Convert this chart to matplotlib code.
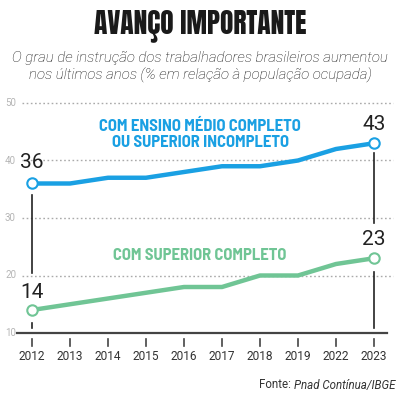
import matplotlib
matplotlib.use("Agg")
import matplotlib.pyplot as plt
from matplotlib.transforms import blended_transform_factory

years = ["2012", "2013", "2014", "2015", "2016", "2017", "2018", "2019", "2022", "2023"]
medio = [36, 36, 37, 37, 38, 39, 39, 40, 42, 43]
superior = [14, 15, 16, 17, 18, 18, 20, 20, 22, 23]
yticks = [10, 20, 30, 40, 50]

BLUE = "#1aa0e3"
GREEN = "#70c595"
W, H = 400, 395
fig = plt.figure(figsize=(W / 100, H / 100), dpi=100)
fig.patch.set_facecolor("white")

def fx(px):
    return px / W

def fy(py):
    return 1 - py / H

ax = fig.add_axes([fx(17), fy(333), fx(395) - fx(17), fy(95) - fy(333)])
x = list(range(len(years)))
ax.set_xlim((17 - 32) / 38, (395 - 32) / 38)
ax.set_ylim(10, 10 + (333 - 95) / 5.75)
for s in ax.spines.values():
    s.set_visible(False)
ax.set_xticks([])
ax.set_yticks([])

# gridlines
x0g, x1g = (22 - 17) / 378, (393 - 17) / 378
for v in yticks[1:]:
    ax.axhline(v, xmin=x0g, xmax=x1g, color="#aaaaaa", lw=1.0, ls=(0, (1.2, 1.8)), zorder=1)
ax.axhline(10, xmin=0, xmax=(387 - 17) / 378, color="#444444", lw=1.6, zorder=2, clip_on=False)

# y labels
for v in yticks:
    ax.text((5 - 32) / 38, v, str(v), ha="left", va="center", fontsize=7, color="#b5b5b5",
            family="Roboto", clip_on=False)

# x ticks & labels
tr = blended_transform_factory(ax.transData, ax.transAxes)
for i, yr in enumerate(years):
    ax.plot([i, i], [-6 / 238, -13 / 238], transform=tr, color="#444444", lw=1.2, clip_on=False)
    ax.text(i, -24 / 238, yr, transform=tr, ha="center", va="center", fontsize=8.6,
            color="#333333", family="Roboto", clip_on=False)

# leader lines
ax.plot([0, 0], [medio[0] - 2.0, superior[0] + 6.4], color="#222222", lw=1.2, zorder=2)
ax.plot([0, 0], [superior[0] - 2.3, superior[0] - 3.1], color="#222222", lw=1.2, zorder=2)
ax.plot([9, 9], [medio[-1] - 1.7, superior[-1] + 6.1], color="#222222", lw=1.2, zorder=2)
ax.plot([9, 9], [superior[-1] - 2.4, 10.9], color="#222222", lw=1.2, zorder=2)

# lines
ax.plot(x, medio, color=BLUE, lw=3.2, solid_capstyle="butt", zorder=3)
ax.plot(x, superior, color=GREEN, lw=3.2, solid_capstyle="butt", zorder=3)
for series, col in ((medio, BLUE), (superior, GREEN)):
    ax.plot([x[0], x[-1]], [series[0], series[-1]], ls="none", marker="o", ms=7.5,
            mfc="white", mec=col, mew=1.5, zorder=4)

# value labels
vfont = dict(fontsize=15, color="#222222", family="Roboto", ha="center", va="center")
ax.text(0, medio[0] + 3.6, str(medio[0]), **vfont)
ax.text(9, medio[-1] + 3.3, str(medio[-1]), **vfont)
ax.text(9, superior[-1] + 3.2, str(superior[-1]), **vfont)
ax.text(0, superior[0] + 3.1, str(superior[0]), **vfont)

# series labels
lfont = dict(fontsize=12, fontweight="bold", family="Barlow Semi Condensed", ha="center", va="center")
fig.text(fx(200), fy(126), "COM ENSINO MÉDIO COMPLETO", color=BLUE, **lfont)
fig.text(fx(200), fy(143), "OU SUPERIOR INCOMPLETO", color=BLUE, **lfont)
fig.text(fx(200), fy(256), "COM SUPERIOR COMPLETO", color=GREEN, **lfont)

# title
fig.text(fx(200), fy(26), "AVANÇO IMPORTANTE", ha="center", va="center", fontsize=19.8,
         family=["Anton", "Barlow Condensed"], color="#1a1a1a")
sub = dict(ha="center", va="center", fontsize=10.8, style="italic", fontweight="light",
           family="Roboto", color="#111111")
fig.text(fx(200), fy(58), "O grau de instrução dos trabalhadores brasileiros aumentou", **sub)
fig.text(fx(200), fy(75), "nos últimos anos (% em relação à população ocupada)", **sub)

# source
src = fig.text(fx(395), fy(385), "Pnad Contínua/IBGE", ha="right", va="center", fontsize=8.3,
               style="italic", family="Roboto", color="#333333")
ax.annotate("Fonte: ", xy=(0, 0.5), xycoords=src, ha="right", va="center", fontsize=8.3,
            family="Roboto", color="#333333", annotation_clip=False)

fig.savefig("out.png", dpi=100, facecolor="white")
